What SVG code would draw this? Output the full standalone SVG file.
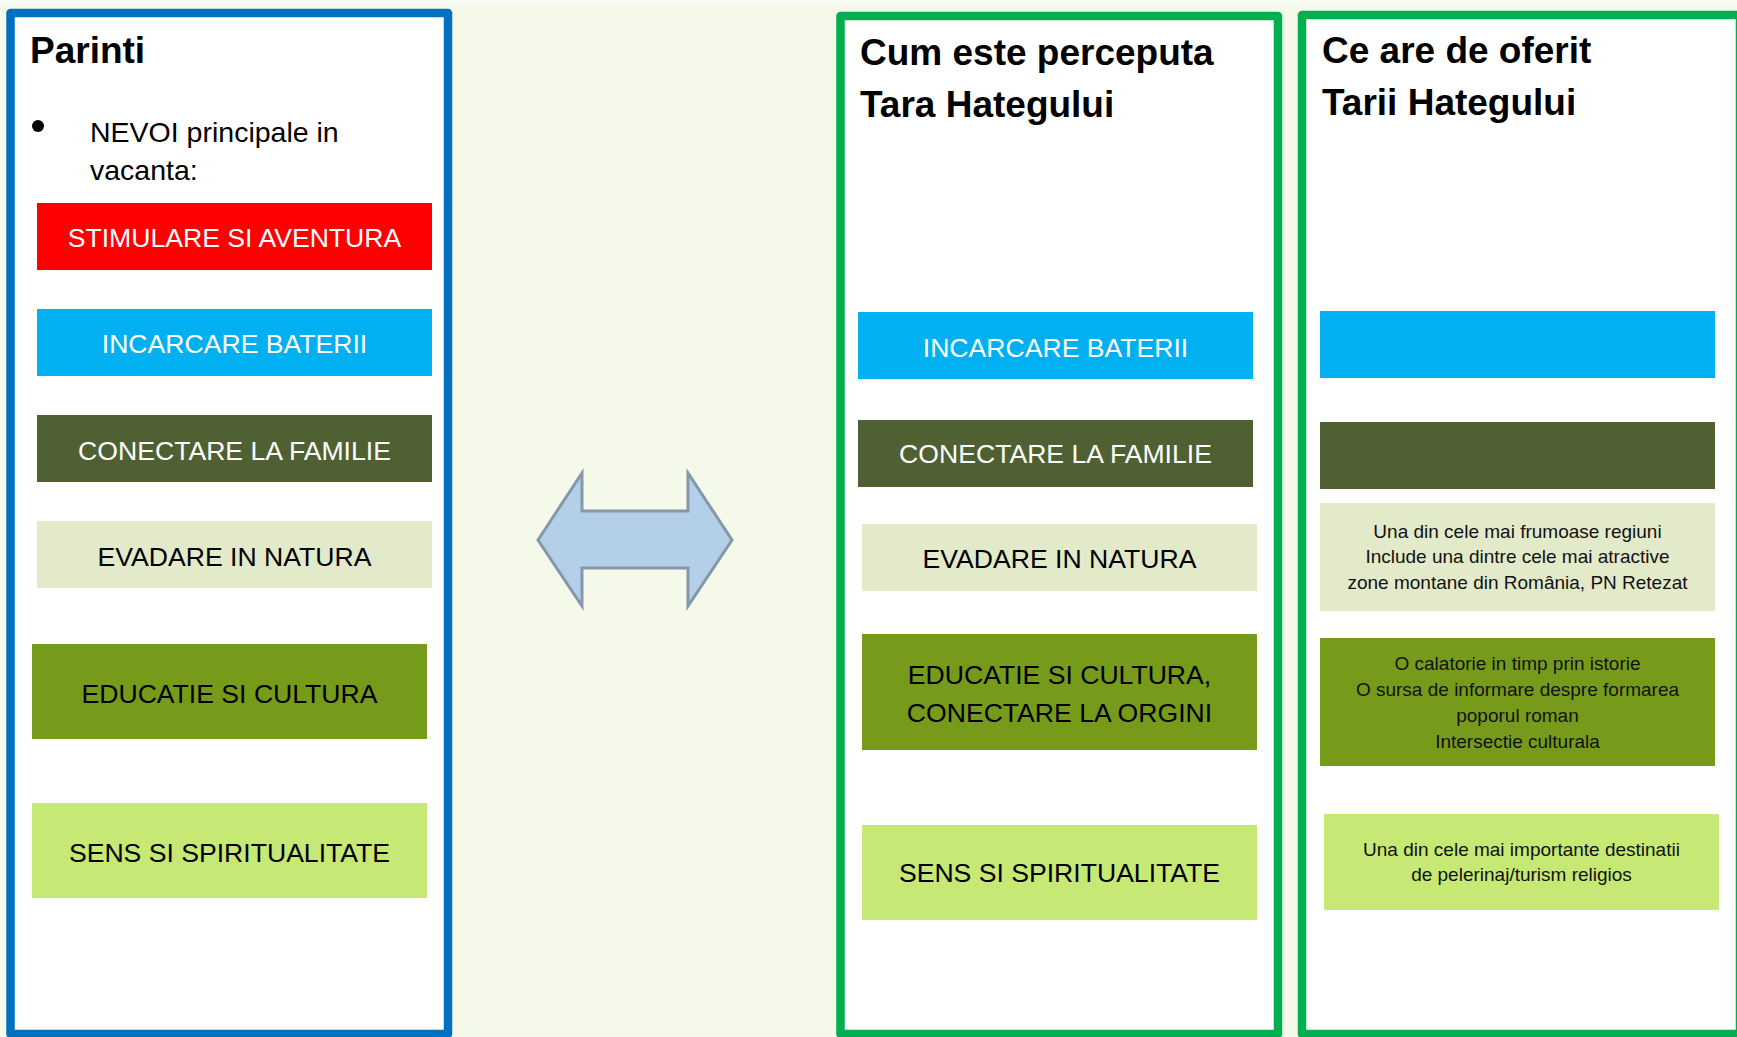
<svg xmlns="http://www.w3.org/2000/svg" width="1737" height="1037" viewBox="0 0 1737 1037">
<style>
.panel{fill:#FFFFFF;stroke-width:8.5;stroke-linejoin:round}
.title{font-family:"Liberation Sans",Arial,sans-serif;font-weight:bold;font-size:37px;fill:#000}
.big{font-family:"Liberation Sans",Arial,sans-serif;font-size:26.6px;text-anchor:middle}
.small{font-family:"Liberation Sans",Arial,sans-serif;font-size:19px;text-anchor:middle;fill:#111}
.w{fill:#FFFFFF}
.k{fill:#000000}
.red{fill:#FF0000}
.sky{fill:#00B0F0}
.dkol{fill:#4F6133}
.pale{fill:#E3EACA}
.olive{fill:#769B1B}
.lime{fill:#C6E875}
</style>
<rect x="0" y="0" width="1737" height="1037" fill="#F5F9EA"/>
<rect x="0" y="0" width="1737" height="6" fill="#F8FBF1"/>

<g id="panel-parinti">
<rect class="panel" x="10.5" y="13" width="437.5" height="1021" stroke="#0070C0"/>
<text class="title" x="30" y="63">Parinti</text>
<circle cx="38" cy="126" r="6" fill="#000"/>
<text x="90" y="141.5" font-family="'Liberation Sans',Arial,sans-serif" font-size="28.5" fill="#000">NEVOI principale in</text>
<text x="90" y="180" font-family="'Liberation Sans',Arial,sans-serif" font-size="28.5" fill="#000">vacanta:</text>
</g>
<g id="p-stimulare">
<rect class="red" x="37" y="203" width="395" height="67"/>
<text class="big w" x="234.5" y="246.5">STIMULARE SI AVENTURA</text>
</g>
<g id="p-incarcare">
<rect class="sky" x="37" y="309" width="395" height="67"/>
<text class="big w" x="234.5" y="353">INCARCARE BATERII</text>
</g>
<g id="p-conectare">
<rect class="dkol" x="37" y="415" width="395" height="67"/>
<text class="big w" x="234.5" y="459.5">CONECTARE LA FAMILIE</text>
</g>
<g id="p-evadare">
<rect class="pale" x="37" y="521" width="395" height="67"/>
<text class="big k" x="234.5" y="565.5">EVADARE IN NATURA</text>
</g>
<g id="p-educatie">
<rect class="olive" x="32" y="644" width="395" height="95"/>
<text class="big k" x="229.5" y="703">EDUCATIE SI CULTURA</text>
</g>
<g id="p-sens">
<rect class="lime" x="32" y="803" width="395" height="95"/>
<text class="big k" x="229.5" y="861.5">SENS SI SPIRITUALITATE</text>
</g>

<g id="connectors">
<polygon points="538,540 582,473 582,511 688,511 688,473 732,540 688,606 688,568 582,568 582,606" fill="#B4D0E8" stroke="#8597AB" stroke-width="3" stroke-linejoin="miter"/>
</g>

<g id="panel-perceputa">
<rect class="panel" x="840.5" y="16" width="437.5" height="1018" stroke="#00B050"/>
<text class="title" x="860" y="65">Cum este perceputa</text>
<text class="title" x="860" y="116.5">Tara Hategului</text>
</g>
<g id="m-incarcare">
<rect class="sky" x="858" y="312" width="395" height="67"/>
<text class="big w" x="1055.5" y="357">INCARCARE BATERII</text>
</g>
<g id="m-conectare">
<rect class="dkol" x="858" y="420" width="395" height="67"/>
<text class="big w" x="1055.5" y="463">CONECTARE LA FAMILIE</text>
</g>
<g id="m-evadare">
<rect class="pale" x="862" y="524" width="395" height="67"/>
<text class="big k" x="1059.5" y="568">EVADARE IN NATURA</text>
</g>
<g id="m-educatie">
<rect class="olive" x="862" y="634" width="395" height="116"/>
<text class="big k" x="1059.5" y="684">EDUCATIE SI CULTURA,</text>
<text class="big k" x="1059.5" y="722">CONECTARE LA ORGINI</text>
</g>
<g id="m-sens">
<rect class="lime" x="862" y="825" width="395" height="95"/>
<text class="big k" x="1059.5" y="882">SENS SI SPIRITUALITATE</text>
</g>

<g id="panel-oferit">
<rect class="panel" x="1302" y="15" width="438" height="1019" stroke="#00B050"/>
<text class="title" x="1322" y="63">Ce are de oferit</text>
<text class="title" x="1322" y="115">Tarii Hategului</text>
</g>
<g id="o-incarcare">
<rect class="sky" x="1320" y="311" width="395" height="67"/>
</g>
<g id="o-conectare">
<rect class="dkol" x="1320" y="422" width="395" height="67"/>
</g>
<g id="o-natura">
<rect class="pale" x="1320" y="503" width="395" height="108"/>
<text class="small" x="1517.5" y="537.5">Una din cele mai frumoase regiuni</text>
<text class="small" x="1517.5" y="563">Include una dintre cele mai atractive</text>
<text class="small" x="1517.5" y="588.5">zone montane din România, PN Retezat</text>
</g>
<g id="o-istorie">
<rect class="olive" x="1320" y="638" width="395" height="128"/>
<text class="small" x="1517.5" y="670">O calatorie in timp prin istorie</text>
<text class="small" x="1517.5" y="696">O sursa de informare despre formarea</text>
<text class="small" x="1517.5" y="722">poporul roman</text>
<text class="small" x="1517.5" y="747.5">Intersectie culturala</text>
</g>
<g id="o-religios">
<rect class="lime" x="1324" y="814" width="395" height="96"/>
<text class="small" x="1521.5" y="855.5">Una din cele mai importante destinatii</text>
<text class="small" x="1521.5" y="880.5">de pelerinaj/turism religios</text>
</g>
</svg>
